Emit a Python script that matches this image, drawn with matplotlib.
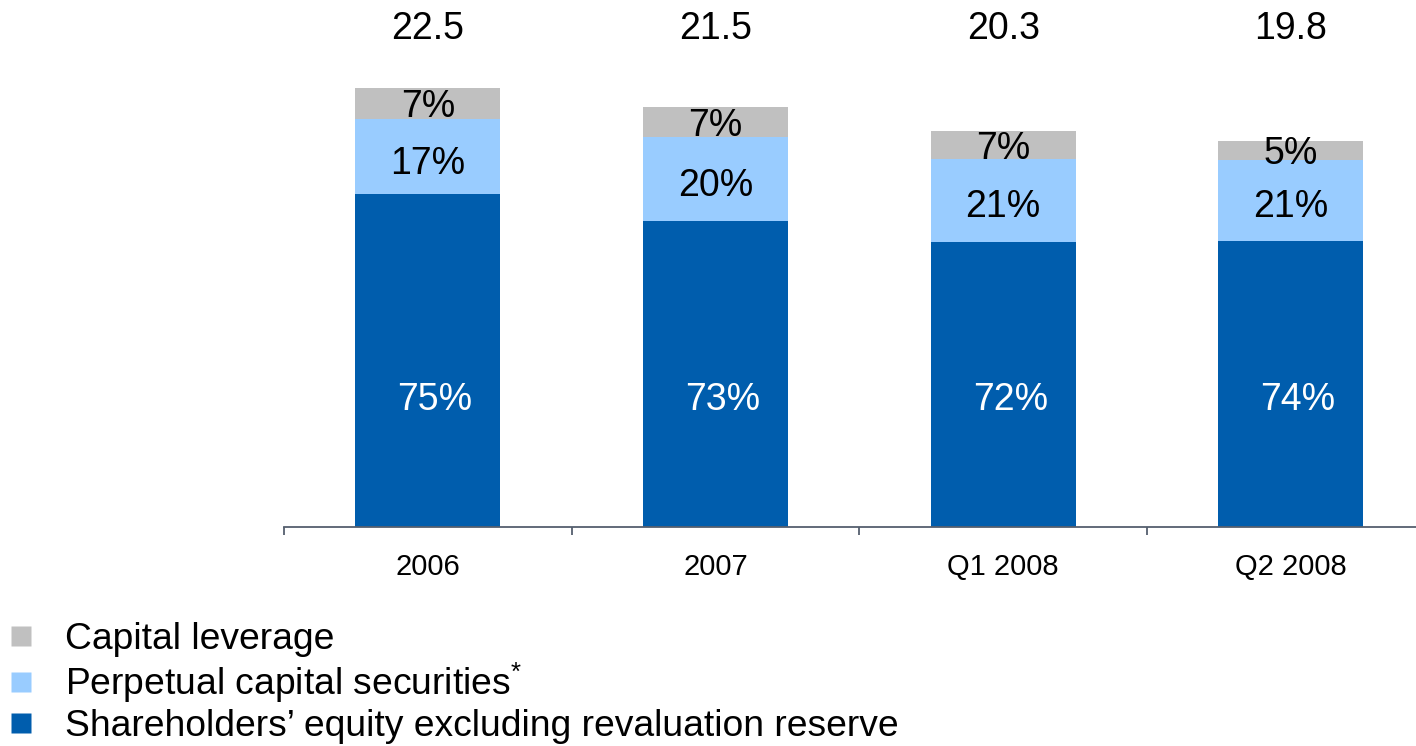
import matplotlib.pyplot as plt
from matplotlib.lines import Line2D

plt.rcParams['font.family'] = ['Liberation Sans', 'DejaVu Sans']
plt.rcParams['mathtext.fontset'] = 'custom'
plt.rcParams['mathtext.rm'] = 'Liberation Sans'

# Data
periods = ['2006', '2007', 'Q1 2008', 'Q2 2008']
totals = [22.5, 21.5, 20.3, 19.8]
equity_pct = [75, 73, 72, 74]
perpetual_pct = [17, 20, 21, 21]
leverage_pct = [7, 7, 7, 5]

c_equity = '#005DAD'
c_perpetual = '#99CCFF'
c_leverage = '#C0C0C0'

fig = plt.figure(figsize=(14.16, 7.46), dpi=100)
ax = fig.add_axes([0.2006, 0.2936, 0.7994, 0.7064])

x = list(range(len(periods)))
width = 0.504

# split each total into its three parts
equity, perpetual, leverage = [], [], []
for t, e, p, l in zip(totals, equity_pct, perpetual_pct, leverage_pct):
    s = e + p + l
    equity.append(t * e / s)
    perpetual.append(t * p / s)
    leverage.append(t * l / s)
bottom2 = [a + b for a, b in zip(equity, perpetual)]

ax.bar(x, equity, width, color=c_equity)
ax.bar(x, perpetual, width, bottom=equity, color=c_perpetual)
ax.bar(x, leverage, width, bottom=bottom2, color=c_leverage)

fs = 27
for i in x:
    ax.text(i + 0.025, 6.5, f'{equity_pct[i]}%', ha='center', va='center',
            fontsize=fs, color='white')
    ax.text(i, equity[i] + perpetual[i] / 2 - 0.15, f'{perpetual_pct[i]}%',
            ha='center', va='center_baseline', fontsize=fs, color='black')
    ax.text(i, bottom2[i] + leverage[i] / 2, f'{leverage_pct[i]}%',
            ha='center', va='center_baseline', fontsize=fs, color='black')
    ax.text(i, 25.5, f'{totals[i]}', ha='center', va='center',
            fontsize=fs, color='black')

ax.set_xlim(-0.5, 3.435)
ax.set_ylim(0, 27)

for s in ['top', 'right', 'left']:
    ax.spines[s].set_visible(False)
ax.spines['bottom'].set_color('#555F6E')
ax.spines['bottom'].set_linewidth(1.3)
ax.set_yticks([])

ax.set_xticks(x)
ax.set_xticklabels(periods, fontsize=21)
ax.tick_params(axis='x', which='major', length=0, pad=19)
ax.set_xticks([-0.5, 0.5, 1.5, 2.5], minor=True)
ax.tick_params(axis='x', which='minor', length=6, width=1.3,
               color='#555F6E', direction='out')

handles = [
    Line2D([], [], marker='s', linestyle='none', markersize=14,
           markerfacecolor=c_leverage, markeredgecolor='none'),
    Line2D([], [], marker='s', linestyle='none', markersize=14,
           markerfacecolor=c_perpetual, markeredgecolor='none'),
    Line2D([], [], marker='s', linestyle='none', markersize=14,
           markerfacecolor=c_equity, markeredgecolor='none'),
]
labels = ['Capital leverage',
          'Perpetual capital securities$^{*}$',
          'Shareholders\u2019 equity excluding revaluation reserve']
fig.legend(handles, labels, loc='upper left', bbox_to_anchor=(0.002, 0.166),
           frameon=False, fontsize=26.8, handlelength=1.0, handletextpad=0.68,
           labelspacing=0.09, borderpad=0.0, borderaxespad=0.0)

fig.savefig('out.png', dpi=100)
